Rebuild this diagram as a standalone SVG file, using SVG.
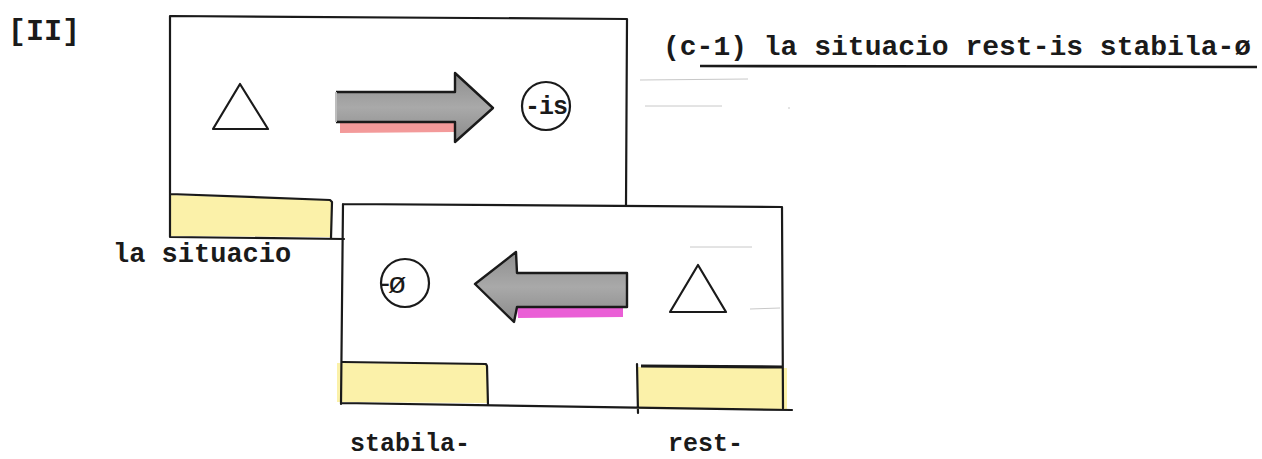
<svg xmlns="http://www.w3.org/2000/svg" width="1262" height="459" viewBox="0 0 1262 459">
<defs>
<style>
.ln{fill:none;stroke:#1a1a1a;stroke-width:2.2;stroke-linecap:round;stroke-linejoin:round}
.tx{font-family:"Liberation Mono","Courier New",monospace;font-weight:bold;fill:#1a1a1a}
.yel{fill:#fbf1a9;stroke:none}
.faint{stroke:#c8c8c8;stroke-width:1;fill:none}
.arr{fill:url(#gray);stroke:#1a1a1a;stroke-width:2.4;stroke-linejoin:round}
</style>
<linearGradient id="gray" x1="0" y1="0" x2="0" y2="1">
<stop offset="0" stop-color="#8e8e8e"/>
<stop offset="0.5" stop-color="#a9a9a9"/>
<stop offset="1" stop-color="#8a8a8a"/>
</linearGradient>
</defs>
<rect width="1262" height="459" fill="#ffffff"/>

<g id="label-II">
<text class="tx" x="8" y="40" font-size="30">[II]</text>
</g>

<g id="title">
<text class="tx" x="663" y="55" font-size="28">(c-1) la situacio rest-is stabila-ø</text>
<path d="M700 66 L1257 67" stroke="#1a1a1a" stroke-width="2.6" fill="none"/>
<path class="faint" d="M640 80 L748 79 M645 106 L722 106 M788 108 L790 108"/>
</g>

<g id="box-top">
<path class="yel" d="M171 195 L331 200 L331 237 L171 236 Z"/>
<path class="ln" d="M170 16 L627 19 M170 16 L170 237 L344 239 M627 19 L626 205 M170 194 L330 200 L332 202 L331 238"/>
<path class="ln" d="M213 129 L240 84 L268 129 Z"/>
<circle class="ln" cx="546" cy="106" r="24"/>
<text class="tx" x="546" y="114" font-size="25" text-anchor="middle" letter-spacing="-1">-is</text>
</g>

<g id="box-bottom">
<path class="yel" d="M337 363 L487 364 L487 403 L337 402 Z"/>
<path class="yel" d="M637 367 L787 368 L787 410 L637 409 Z"/>
<path class="ln" d="M343 204 L782 207 M343 204 L341 404 M782 207 L783 408 M341 403 L792 410 M343 362 L486 364 L487 366 L488 405 M637 364 L638 413"/>
<path d="M641 366 L782 367" stroke="#1a1a1a" stroke-width="3.2" fill="none"/>
<path class="faint" d="M690 247 L752 247 M750 309 L780 308"/>
<path class="ln" d="M670 312 L698 265 L726 312 Z"/>
<circle class="ln" cx="405" cy="283" r="24"/>
<text x="380" y="293" font-size="30" font-family="Liberation Sans, Arial, sans-serif" fill="#1a1a1a" letter-spacing="-2">-ø</text>
</g>

<g id="connectors">
<path d="M340 122 L455 122 L455 132 L340 133 Z" fill="#f39a9a"/>
<path class="arr" d="M336 92 L455 92 L455 73 L493 108 L455 142 L455 122 L336 122"/>
<path d="M336 92 L336 122" stroke="#bdbdbd" stroke-width="2"/>
<path d="M517 307 L623 306 L623 317 L518 318 Z" fill="#ea5fd6"/>
<path class="arr" d="M627 273 L517 273 L516 252 L475 284 L514 322 L517 307 L627 307 Z"/>
</g>

<g id="labels">
<text class="tx" x="113" y="262" font-size="27">la situacio</text>
<text class="tx" x="350" y="451" font-size="25">stabila-</text>
<text class="tx" x="668" y="451" font-size="25">rest-</text>
</g>
</svg>
